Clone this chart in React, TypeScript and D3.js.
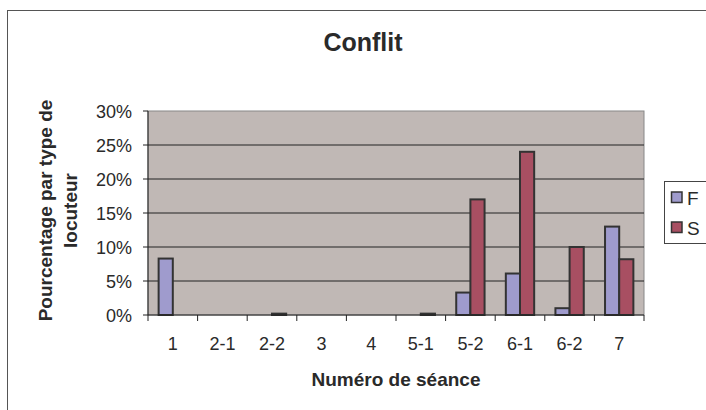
import React from "react";
import * as d3 from "d3";

const categories = ["1", "2-1", "2-2", "3", "4", "5-1", "5-2", "6-1", "6-2", "7"];
const seriesNames = ["F", "S"];
const valuesF = [8.3, 0, 0, 0, 0, 0, 3.3, 6.1, 1.0, 13.0];
const valuesS = [0, 0, 0.2, 0, 0, 0.2, 17.0, 24.0, 10.0, 8.2];
const yTicks = [0, 5, 10, 15, 20, 25, 30];
const colors = ["#9f9bcd", "#a84f62"];

export default function App() {
  const W = 706, H = 410;
  const left = 148, right = 644, top = 111, bottom = 315;
  const x = d3.scaleBand<string>().domain(categories).range([left, right]).paddingInner(0).paddingOuter(0);
  const y = d3.scaleLinear().domain([0, 30]).range([bottom, top]);
  const bw = x.bandwidth();
  const barW = bw / 3.5;
  const inner = d3.scaleBand<string>().domain(seriesNames).range([bw * 0.75 / 3.5, bw - bw * 0.75 / 3.5]);
  const series = [valuesF, valuesS];
  const font = "Liberation Sans, Arial, sans-serif";
  const ink = "#2a2a2a";
  return (
    <svg width={W} height={H} style={{ position: "absolute", left: 0, top: 0, fontFamily: font }}>
      <rect x={0} y={0} width={W} height={H} fill="#fff" />
      <rect x={7.5} y={10.5} width={W + 10} height={H + 10} fill="#fff" stroke="#555" strokeWidth={1} />
      <text x={363} y={51} textAnchor="middle" fontSize={25} fontWeight="bold" fill={ink}>Conflit</text>
      <rect x={left} y={top} width={right - left} height={bottom - top} fill="#c0b8b5" stroke="#888" strokeWidth={1} />
      {yTicks.map((t) => (
        <g key={t}>
          {t > 0 && t < 30 && <line x1={left} x2={right} y1={y(t)} y2={y(t)} stroke="#222" strokeWidth={1} />}
          <line x1={left - 5} x2={left} y1={y(t)} y2={y(t)} stroke="#222" strokeWidth={1} />
          <text x={132} y={y(t) + 6.5} textAnchor="end" fontSize={18} fill={ink}>{t + "%"}</text>
        </g>
      ))}
      <line x1={left} x2={left} y1={top} y2={bottom} stroke="#222" strokeWidth={1} />
      {categories.map((c, i) => (
        <g key={c}>
          {series.map((vals, si) => {
            const v = vals[i];
            if (v <= 0) return null;
            const bx = (x(c) as number) + (inner(seriesNames[si]) as number);
            return (
              <rect key={si} x={bx} y={y(v)} width={barW} height={bottom - y(v)} fill={colors[si]} stroke="#333" strokeWidth={2} />
            );
          })}
        </g>
      ))}
      <line x1={left} x2={right} y1={bottom} y2={bottom} stroke="#222" strokeWidth={1} />
      {[...categories.map((c) => x(c) as number), right].map((px, i) => (
        <line key={i} x1={px} x2={px} y1={bottom} y2={bottom + 6} stroke="#222" strokeWidth={1} />
      ))}
      {categories.map((c) => (
        <text key={c} x={(x(c) as number) + bw / 2} y={350} textAnchor="middle" fontSize={18} fill={ink}>{c}</text>
      ))}
      <text x={396} y={386} textAnchor="middle" fontSize={19} fontWeight="bold" fill={ink}>Numéro de séance</text>
      <g transform="translate(52,210.5) rotate(-90)">
        <text x={0} y={0} textAnchor="middle" fontSize={19} fontWeight="bold" fill={ink}>Pourcentage par type de</text>
        <text x={0} y={25} textAnchor="middle" fontSize={19} fontWeight="bold" fill={ink}>locuteur</text>
      </g>
      <rect x={664.5} y={181.5} width={50} height={62} fill="#fff" stroke="#444" strokeWidth={1} />
      {seriesNames.map((s, i) => (
        <g key={s}>
          <rect x={671.5} y={192 + i * 30} width={10.5} height={10.5} fill={colors[i]} stroke="#333" strokeWidth={1.5} />
          <text x={687} y={204.5 + i * 30} fontSize={19} fill={ink}>{s}</text>
        </g>
      ))}
    </svg>
  );
}
